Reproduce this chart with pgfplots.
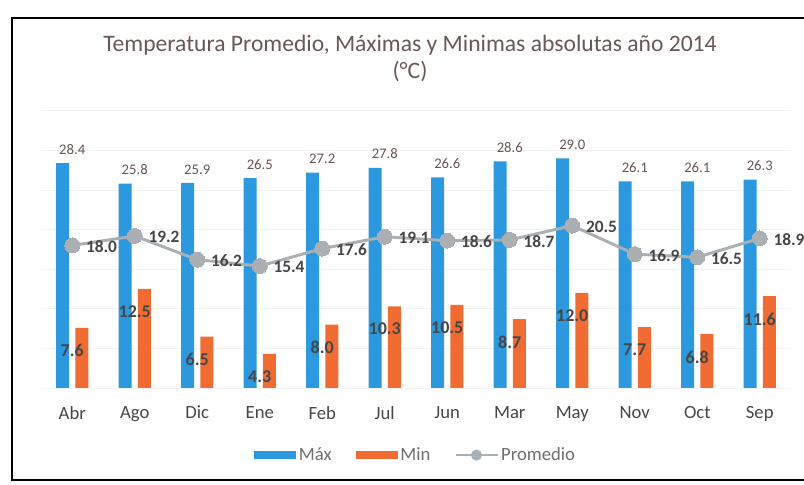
\documentclass[border=0pt]{standalone}
\usepackage{pgfplots}
\pgfplotsset{compat=1.18}
\usepackage{fontspec}
\setmainfont{Carlito}
\definecolor{maxc}{RGB}{44,152,222}
\definecolor{minc}{RGB}{240,108,50}
\definecolor{promc}{RGB}{170,175,180}
\definecolor{titc}{RGB}{105,88,88}
\definecolor{labc}{RGB}{70,70,70}
\definecolor{legc}{RGB}{110,110,110}
\definecolor{maxlab}{RGB}{105,85,85}
\pgfplotstableread{
x max min prom
0 28.4 7.6 18.0
1 25.8 12.5 19.2
2 25.9 6.5 16.2
3 26.5 4.3 15.4
4 27.2 8.0 17.6
5 27.8 10.3 19.1
6 26.6 10.5 18.6
7 28.6 8.7 18.7
8 29.0 12.0 20.5
9 26.1 7.7 16.9
10 26.1 6.8 16.5
11 26.3 11.6 18.9
}\datatable
\begin{document}
\begin{tikzpicture}
\path[use as bounding box] (0,0) rectangle (603pt,363.75pt);
\draw[line width=1.5pt,black] (607.5pt,350.25pt) -- (9pt,350.25pt) -- (9pt,3.75pt) -- (607.5pt,3.75pt);
\node[text=titc,font=\fontsize{17.7}{20}\selectfont] at (307.5pt,330pt) {Temperatura Promedio, Máximas y Minimas absolutas año 2014};
\node[text=titc,font=\fontsize{17.7}{20}\selectfont] at (307.5pt,309.75pt) {(°C)};
\begin{axis}[
  at={(30.75pt,72.75pt)}, anchor=south west,
  scale only axis, width=562.5pt, height=207.9pt,
  xmin=-0.5, xmax=11.5, ymin=0, ymax=35,
  xtick={0,...,11},
  xticklabels={Abr,Ago,Dic,Ene,Feb,Jul,Jun,Mar,May,Nov,Oct,Sep},
  xticklabel style={text=labc,font=\fontsize{14}{16}\selectfont,yshift=-10pt},
  ytick={0,5,...,35}, yticklabels={},
  ymajorgrids, grid style={gray!10,line width=0.6pt},
  major tick length=0pt,
  axis line style={draw=none},
  clip=false,
  /pgf/number format/.cd, fixed, fixed zerofill, precision=1, assume math mode=true,
  /pgfplots/.cd,
  legend columns=3,
  legend style={at={(0.5,-0.242)},anchor=center,draw=none,fill=none,
    font=\fontsize{14}{16}\selectfont,text=legc,
    /tikz/every even column/.append style={column sep=16pt}},
]
\addplot[ybar,bar width=9.75pt,bar shift=-7.3pt,fill=maxc,draw=none,
  nodes near coords,
  every node near coord/.append style={text=maxlab,font=\fontsize{11}{13}\selectfont,anchor=south,yshift=3pt},
  legend image code/.code={\fill[maxc] (0pt,-3pt) rectangle (31.5pt,3pt);}]
  table[x=x,y=max]{\datatable};
\addlegendentry{Máx}
\addplot[ybar,bar width=9.75pt,bar shift=7.3pt,fill=minc,draw=none,
  nodes near coords,
  every node near coord/.append style={text=labc,font=\bfseries\fontsize{13.5}{15}\selectfont,anchor=north,yshift=-9pt},
  legend image code/.code={\fill[minc] (0pt,-3pt) rectangle (31.5pt,3pt);}]
  table[x=x,y=min]{\datatable};
\addlegendentry{Min}
\addplot[sharp plot,promc,line width=2.2pt,mark=*,mark size=5.6pt,
  mark options={fill=promc,draw=promc,line width=0pt},
  nodes near coords,
  every node near coord/.append style={text=labc,font=\bfseries\fontsize{13}{15}\selectfont,anchor=west,xshift=7pt,yshift=-1pt},
  legend image code/.code={\draw[promc,line width=1.5pt] (0pt,0pt) -- (31.5pt,0pt); \fill[promc] (15.75pt,0pt) circle (3pt);}]
  table[x=x,y=prom]{\datatable};
\addlegendentry{Promedio}
\end{axis}
\end{tikzpicture}
\end{document}
